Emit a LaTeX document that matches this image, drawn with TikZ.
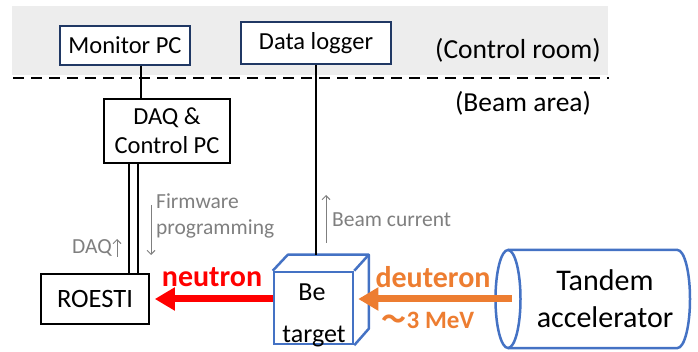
\documentclass[tikz,border=0pt]{standalone}
\usepackage{fontspec}
\setmainfont{Carlito}
\newfontfamily\cjk{Noto Sans CJK JP}
\usetikzlibrary{arrows.meta}
\definecolor{navy}{HTML}{203864}
\definecolor{bblue}{HTML}{4472C4}
\definecolor{borange}{HTML}{ED7D31}
\definecolor{bred}{HTML}{FF0000}
\definecolor{tgray}{HTML}{7F7F7F}
\definecolor{bggray}{HTML}{EDEDED}
\begin{document}
\begin{tikzpicture}[x=1pt,y=-1pt,
  main/.style={font=\fontsize{24.5}{29}\selectfont, inner sep=0pt},
  navybox/.style={main, draw=navy, line width=1.6pt, fill=white},
  blackbox/.style={main, draw=black, line width=1.6pt, fill=white, align=center},
  roomlbl/.style={font=\fontsize{27.5}{32}\selectfont, inner sep=0pt},
  graylbl/.style={font=\fontsize{21.5}{26}\selectfont, text=tgray, inner sep=0pt, align=left},
  conn/.style={draw=black, line width=1.8pt},
  grayarrow/.style={draw=tgray, line width=1pt, -{Straight Barb[length=4pt,width=8pt]}},
  beamlbl/.style={font=\fontsize{30}{36}\selectfont\bfseries, inner sep=0pt},
]
\useasboundingbox (0,0) rectangle (698,352);
% rooms
\fill[bggray] (12,6) rectangle (608,75);
\draw[black, line width=2pt, dash pattern=on 11pt off 7pt] (13,78) -- (609,78);
\node[roomlbl] (ctrl) at (518,50) {(Control room)};
\node[roomlbl] (beam) at (523,103) {(Beam area)};

% boxes
\node[navybox, minimum width=130pt, minimum height=39pt] (mon) at (125,45.5) {Monitor PC};
\node[navybox, minimum width=150pt, minimum height=42pt] (dl) at (316,43) {Data logger};
\node[blackbox, minimum width=126pt, minimum height=64pt] (daq) at (167,131) {DAQ \&\\Control PC};
\node[blackbox, minimum width=108pt, minimum height=50pt, font=\fontsize{26.5}{31}\selectfont] (roesti) at (95,299) {ROESTI};

% Be target cube
\node[draw=bblue, line width=2.5pt, minimum width=79pt, minimum height=72pt, inner sep=0pt] (be) at (313.5,308) {};
\draw[bblue, line width=2.5pt, line join=round] (be.north west) -- ++(15,-16) coordinate (cubetl) -- ++(81,0) coordinate (cubetr) -- (be.north east);
\draw[bblue, line width=2.5pt, line join=round] (cubetr) -- ++(0,74) -- (be.south east);
\node[font=\fontsize{26}{31}\selectfont, inner sep=0pt] (betxt1) at (312,292) {Be};
\node[font=\fontsize{26}{31}\selectfont, inner sep=0pt, anchor=base] (betxt2) at (314,342) {target};

% Tandem accelerator
\coordinate (acc) at (508,299);
\coordinate (acctop) at (508,250);
\coordinate (accbot) at (508,348);
\draw[bblue, line width=2.5pt] (acc) ellipse [x radius=12.5, y radius=49];
\draw[bblue, line width=2.5pt] (acctop) -- (677.5,250) arc[start angle=-90, end angle=90, x radius=12.5, y radius=49] -- (accbot);
\node[font=\fontsize{30}{37}\selectfont, inner sep=0pt, align=center] (tandem) at (605,299) {Tandem\\accelerator};

% connectors
\coordinate (m1) at ([xshift=16pt]mon.south);
\draw[conn] (m1) -- (m1 |- daq.north);
\draw[conn] (dl.south) -- (dl.south |- cubetl);
\coordinate (r1) at ([xshift=34pt]roesti.north);
\coordinate (r2) at ([xshift=43pt]roesti.north);
\draw[conn] (r1) -- (r1 |- daq.south);
\draw[conn] (r2) -- (r2 |- daq.south);

% gray annotations
\node[graylbl, anchor=east] (daqlbl) at (112,248) {DAQ};
\coordinate (da1) at (117,257);
\coordinate (da2) at (117,239);
\draw[grayarrow] (da1) -- (da2);
\node[graylbl, anchor=west] (fwlbl) at (156,216) {Firmware\\programming};
\coordinate (fw1) at (151,205);
\coordinate (fw2) at (151,255);
\draw[grayarrow] (fw1) -- (fw2);
\node[graylbl, anchor=west] (bclbl) at (332,220) {Beam current};
\coordinate (bc1) at (326,243);
\coordinate (bc2) at (326,195);
\draw[grayarrow] (bc1) -- (bc2);

% beams
\draw[bred, line width=7pt, -{Triangle[length=20pt,width=22pt]}] (be.west |- roesti.east) -- ([xshift=5pt]roesti.east);
\node[beamlbl, text=bred] (neutron) at (212,277) {neutron};
\draw[borange, line width=7pt, -{Triangle[length=20pt,width=22pt]}] ([xshift=4pt]acc) -- ([xshift=4pt]be.east |- acc);
\node[beamlbl, text=borange] (deut) at (433,277) {deuteron};
\node[font=\fontsize{25}{30}\selectfont\bfseries, text=borange, inner sep=0pt] (mev) at (428,320) {{\cjk ～}3 MeV};
\end{tikzpicture}
\end{document}
